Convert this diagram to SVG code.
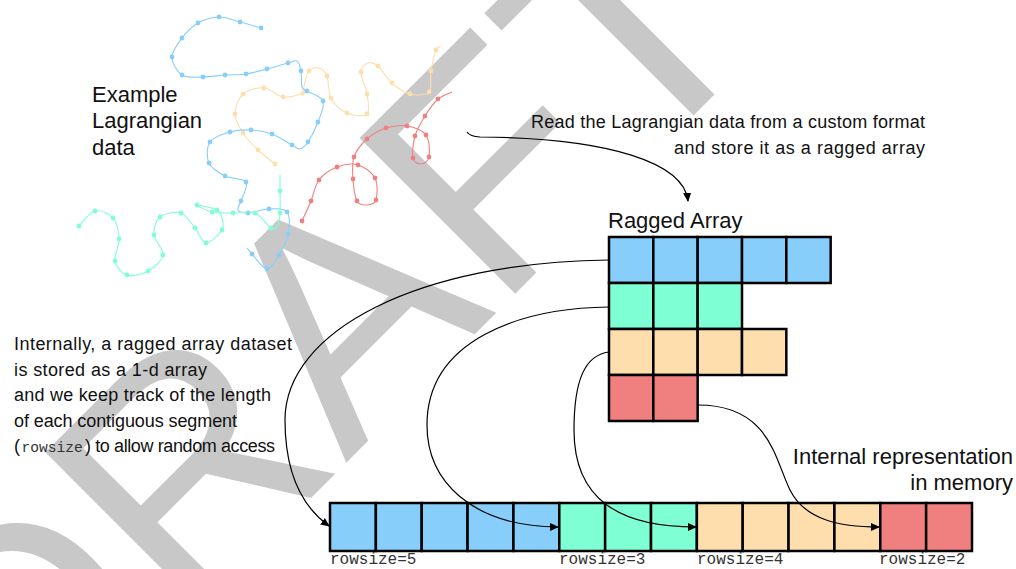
<svg xmlns="http://www.w3.org/2000/svg" width="1016" height="569" viewBox="0 0 1016 569">
<defs>
<style>
.traj{fill:none;stroke-width:1.1}
.b{stroke:#87CEFA}.bf{fill:#87CEFA}
.g{stroke:#7FFFD4}.gf{fill:#7FFFD4}
.o{stroke:#FFDEAD}.of{fill:#FFDEAD}
.r{stroke:#F08080}.rf{fill:#F08080}
.cell{stroke:#000;stroke-width:2.5}
.lbl{font-family:"Liberation Sans",Arial,sans-serif;font-size:22px;fill:#111}
.hand{font-family:"Liberation Sans",Arial,sans-serif;font-size:18px;fill:#111}
.mono{font-family:"Liberation Mono","DejaVu Sans Mono",monospace;fill:#333}
.conn{fill:none;stroke:#000;stroke-width:1.2}
</style>
<marker id="ah" viewBox="0 0 10 10" refX="9" refY="5" markerWidth="9" markerHeight="9" markerUnits="userSpaceOnUse" orient="auto">
<path d="M0,0.5 L10,5 L0,9.5 z" fill="#000"/>
</marker>
</defs>
<rect width="1016" height="569" fill="#fff"/>
<g id="watermark">
<text transform="translate(19,790) rotate(-45)" font-family="Liberation Sans" font-size="320" fill="#c8c8c8">DRAFT</text>
</g>
<g id="trajectories">
<g id="traj-orange">
<path class="traj o" d="M441,46 C440.2,46.7 437.7,45.8 436,50 S432.2,64 431,71 S432.5,88.2 429,92 S416.2,95.5 410,94 S397.3,87.7 392,83 S382,69.3 378,66 S370.8,62 368,63 S361.2,66.8 361,72 S366,87 367,94 S370.3,110.8 367,114 S353,115.7 347,113 S334.3,104.2 331,98 S329,81 327,76 S322,68.8 319,68 S311.5,68 309,71 S305,82.3 304,86 S306.5,91.2 303,93 S289.5,97.8 283,97 S270.7,88.5 264,88 S247.8,89.7 243,94 S235,107.5 235,114 S239.2,127 243,133 S252.7,144.8 258,150 S272.2,161.7 275,164"/>
<g class="of">
<circle cx="436" cy="50" r="2.4"/><circle cx="431" cy="71" r="2.4"/><circle cx="429" cy="92" r="2.4"/><circle cx="410" cy="94" r="2.4"/><circle cx="392" cy="83" r="2.4"/><circle cx="378" cy="66" r="2.4"/><circle cx="361" cy="72" r="2.4"/><circle cx="367" cy="94" r="2.4"/><circle cx="367" cy="114" r="2.4"/><circle cx="347" cy="113" r="2.4"/><circle cx="331" cy="98" r="2.4"/><circle cx="327" cy="76" r="2.4"/><circle cx="309" cy="71" r="2.4"/><circle cx="303" cy="93" r="2.4"/><circle cx="283" cy="97" r="2.4"/><circle cx="264" cy="88" r="2.4"/><circle cx="243" cy="94" r="2.4"/><circle cx="235" cy="114" r="2.4"/><circle cx="243" cy="133" r="2.4"/><circle cx="258" cy="150" r="2.4"/><circle cx="275" cy="164" r="2.4"/>
</g>
</g>
<g id="traj-red">
<path class="traj r" d="M452,92 C449.7,93.2 442.5,95 438,99 S428.8,109.8 425,116 S417,129 415,136 S412,153.3 413,158 S418.3,164.2 421,164 S428.2,161.8 429,157 S429.7,140.2 426,135 S413.7,127.2 407,126 S392.7,125.8 386,128 S372.3,134.2 367,139 S356.3,150.3 354,157 S352.5,171.7 353,179 S354.7,196.7 357,201 S363.8,205.2 367,205 S374.7,204.5 376,200 S378,183.8 375,178 S364.3,166.8 358,165 S343.5,164.5 337,167 S323.3,174.3 319,180 S313.8,194.2 311,201 S303.5,217.7 302,221"/>
<g class="rf">
<circle cx="438" cy="99" r="2.4"/><circle cx="425" cy="116" r="2.4"/><circle cx="415" cy="136" r="2.4"/><circle cx="413" cy="158" r="2.4"/><circle cx="429" cy="157" r="2.4"/><circle cx="426" cy="135" r="2.4"/><circle cx="407" cy="126" r="2.4"/><circle cx="386" cy="128" r="2.4"/><circle cx="367" cy="139" r="2.4"/><circle cx="354" cy="157" r="2.4"/><circle cx="353" cy="179" r="2.4"/><circle cx="357" cy="201" r="2.4"/><circle cx="376" cy="200" r="2.4"/><circle cx="375" cy="178" r="2.4"/><circle cx="358" cy="165" r="2.4"/><circle cx="337" cy="167" r="2.4"/><circle cx="319" cy="180" r="2.4"/><circle cx="311" cy="201" r="2.4"/><circle cx="302" cy="221" r="2.4"/>
</g>
</g>
<g id="traj-blue">
<path class="traj b" d="M261,28 C257.5,27 247,23.8 240,22 S226,16.8 219,17 S204.2,19.5 198,23 S186.3,32.3 182,38 S172,50.8 172,57 S176.8,71.7 182,75 S195.8,77 203,77 S217.8,75.5 225,75 S239,75 246,74 S260,70.8 267,69 S283,64.3 288,63 S294.8,59.7 297,61 S300.2,66.7 301,71 S301,83.7 302,87 S303.5,88.7 307,91 S321.2,95.8 323,101 S320.5,115.2 318,122 S311,137.5 308,142 S302.7,148.5 300,149 S296.7,147.5 292,145 S278.8,136.5 272,134 S258,130.3 251,130 S236.8,130 230,132 S213.5,136.8 210,142 S206.5,157.3 209,163 S218.8,172.8 225,176 S243.3,177.8 246,182 S242.3,196.3 241,201 S236.8,208 238,210 S242.8,213.2 248,213 S262.5,209.2 269,209 S283.8,207.8 287,212 S289.3,226.8 288,234 S282.5,249.2 279,255 S271.5,269.2 267,269 S255.3,257.5 252,254 S247.8,249 247,248"/>
<g class="bf">
<circle cx="261" cy="28" r="2.4"/><circle cx="240" cy="22" r="2.4"/><circle cx="219" cy="17" r="2.4"/><circle cx="198" cy="23" r="2.4"/><circle cx="182" cy="38" r="2.4"/><circle cx="172" cy="57" r="2.4"/><circle cx="182" cy="75" r="2.4"/><circle cx="203" cy="77" r="2.4"/><circle cx="225" cy="75" r="2.4"/><circle cx="246" cy="74" r="2.4"/><circle cx="267" cy="69" r="2.4"/><circle cx="288" cy="63" r="2.4"/><circle cx="301" cy="71" r="2.4"/><circle cx="307" cy="91" r="2.4"/><circle cx="323" cy="101" r="2.4"/><circle cx="318" cy="122" r="2.4"/><circle cx="308" cy="142" r="2.4"/><circle cx="292" cy="145" r="2.4"/><circle cx="272" cy="134" r="2.4"/><circle cx="251" cy="130" r="2.4"/><circle cx="230" cy="132" r="2.4"/><circle cx="210" cy="142" r="2.4"/><circle cx="209" cy="163" r="2.4"/><circle cx="225" cy="176" r="2.4"/><circle cx="246" cy="182" r="2.4"/><circle cx="241" cy="201" r="2.4"/><circle cx="248" cy="213" r="2.4"/><circle cx="269" cy="209" r="2.4"/><circle cx="287" cy="212" r="2.4"/><circle cx="288" cy="234" r="2.4"/><circle cx="279" cy="255" r="2.4"/><circle cx="267" cy="269" r="2.4"/><circle cx="252" cy="254" r="2.4"/>
</g>
</g>
<g id="traj-green">
<path class="traj g" d="M280,175 C280,177.7 280,184.7 280,191 S280.5,207 280,213 S278.5,224.5 277,227 S274.7,230.3 271,228 S261.3,215.5 255,213 S240.2,213.2 233,213 S218,213.3 212,212 S196.2,205.3 197,205 S212.8,207.8 217,210 S221.2,214.7 222,218 S224.7,225.8 222,230 S210.5,243.3 206,243 S199.2,233 195,228 S186.8,214.8 181,213 S164.5,213.3 160,217 S153.5,228.7 154,235 S164,249 163,255 S154,267.7 148,271 S132.5,276.7 127,275 S116.3,267 115,261 S119.3,246.2 119,239 S117,222.7 113,218 S100.7,209.7 95,211 S81.7,223.5 79,226"/>
<g class="gf">
<circle cx="280" cy="191" r="2.4"/><circle cx="280" cy="213" r="2.4"/><circle cx="271" cy="228" r="2.4"/><circle cx="255" cy="213" r="2.4"/><circle cx="233" cy="213" r="2.4"/><circle cx="212" cy="212" r="2.4"/><circle cx="197" cy="205" r="2.4"/><circle cx="217" cy="210" r="2.4"/><circle cx="222" cy="230" r="2.4"/><circle cx="206" cy="243" r="2.4"/><circle cx="195" cy="228" r="2.4"/><circle cx="181" cy="213" r="2.4"/><circle cx="160" cy="217" r="2.4"/><circle cx="154" cy="235" r="2.4"/><circle cx="163" cy="255" r="2.4"/><circle cx="148" cy="271" r="2.4"/><circle cx="127" cy="275" r="2.4"/><circle cx="115" cy="261" r="2.4"/><circle cx="119" cy="239" r="2.4"/><circle cx="113" cy="218" r="2.4"/><circle cx="95" cy="211" r="2.4"/><circle cx="79" cy="226" r="2.4"/>
</g>
</g>
</g>
<g id="label-example">
<text class="lbl" x="92" y="102">Example</text>
<text class="lbl" x="92" y="128">Lagrangian</text>
<text class="lbl" x="92" y="154.5">data</text>
</g>
<g id="note-read">
<text class="hand" x="531" y="127.5" textLength="394">Read the Lagrangian data from a custom format</text>
<text class="hand" x="674" y="153.5" textLength="251">and store it as a ragged array</text>
</g>
<g id="note-internal">
<text class="hand" x="14" y="350" textLength="278">Internally, a ragged array dataset</text>
<text class="hand" x="14" y="375.5" textLength="193">is stored as a 1-d array</text>
<text class="hand" x="14" y="401" textLength="257">and we keep track of the length</text>
<text class="hand" x="14" y="426.5" textLength="223">of each contiguous segment</text>
<text class="hand" x="14" y="452">(</text>
<text class="mono" x="21.5" y="452" font-size="14.6">rowsize</text>
<text class="hand" x="85" y="452" textLength="190">) to allow random access</text>
</g>
<g id="ragged-array">
<text class="lbl" x="608" y="228">Ragged Array</text>
<g id="row-blue" class="bf">
<rect class="cell" x="609" y="237" width="44.33" height="46"/><rect class="cell" x="653.33" y="237" width="44.33" height="46"/><rect class="cell" x="697.67" y="237" width="44.33" height="46"/><rect class="cell" x="742" y="237" width="44.33" height="46"/><rect class="cell" x="786.33" y="237" width="44.33" height="46"/>
</g>
<g id="row-green" class="gf">
<rect class="cell" x="609" y="283" width="44.33" height="46"/><rect class="cell" x="653.33" y="283" width="44.33" height="46"/><rect class="cell" x="697.67" y="283" width="44.33" height="46"/>
</g>
<g id="row-orange" class="of">
<rect class="cell" x="609" y="329" width="44.33" height="46"/><rect class="cell" x="653.33" y="329" width="44.33" height="46"/><rect class="cell" x="697.67" y="329" width="44.33" height="46"/><rect class="cell" x="742" y="329" width="44.33" height="46"/>
</g>
<g id="row-red" class="rf">
<rect class="cell" x="609" y="375" width="44.33" height="46"/><rect class="cell" x="653.33" y="375" width="44.33" height="46"/>
</g>
</g>
<g id="memory-label">
<text class="lbl" x="1013" y="464" text-anchor="end">Internal representation</text>
<text class="lbl" x="1013" y="490" text-anchor="end">in memory</text>
</g>
<g id="memory-array">
<g class="bf">
<rect class="cell" x="330" y="503" width="45.86" height="48"/><rect class="cell" x="375.86" y="503" width="45.86" height="48"/><rect class="cell" x="421.71" y="503" width="45.86" height="48"/><rect class="cell" x="467.57" y="503" width="45.86" height="48"/><rect class="cell" x="513.43" y="503" width="45.86" height="48"/>
</g>
<g class="gf">
<rect class="cell" x="559.29" y="503" width="45.86" height="48"/><rect class="cell" x="605.14" y="503" width="45.86" height="48"/><rect class="cell" x="651" y="503" width="45.86" height="48"/>
</g>
<g class="of">
<rect class="cell" x="696.86" y="503" width="45.86" height="48"/><rect class="cell" x="742.71" y="503" width="45.86" height="48"/><rect class="cell" x="788.57" y="503" width="45.86" height="48"/><rect class="cell" x="834.43" y="503" width="45.86" height="48"/>
</g>
<g class="rf">
<rect class="cell" x="880.29" y="503" width="45.86" height="48"/><rect class="cell" x="926.14" y="503" width="45.86" height="48"/>
</g>
<text class="mono" x="330" y="564" font-size="16">rowsize=5</text>
<text class="mono" x="559" y="564" font-size="16">rowsize=3</text>
<text class="mono" x="697" y="564" font-size="16">rowsize=4</text>
<text class="mono" x="879" y="564" font-size="16">rowsize=2</text>
</g>
<g id="connectors">
<path class="conn" marker-end="url(#ah)" d="M467,132 Q470,136.5 480,137 C610,138 684,163 688,201"/>
<path class="conn" marker-end="url(#ah)" d="M609,260 C420,262 285,330 285,420 C285,470 300,505 329,526"/>
<path class="conn" marker-end="url(#ah)" d="M609,307 C520,308 427,340 427,425 C427,480 470,526 558,527"/>
<path class="conn" marker-end="url(#ah)" d="M609,352 C585,355 574,380 574,430 C574,500 620,527 696,527"/>
<path class="conn" marker-end="url(#ah)" d="M698,405 C770,405 775,460 790,490 C805,520 840,527 879,527"/>
</g>
</svg>
